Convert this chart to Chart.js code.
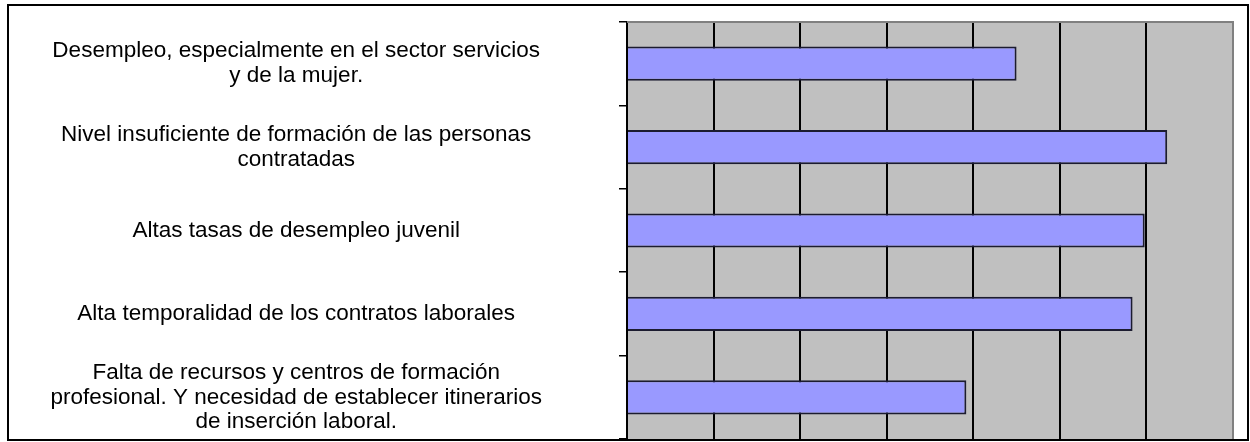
<!DOCTYPE html>
<html>
<head>
<meta charset="utf-8">
<script src="https://cdn.jsdelivr.net/npm/chart.js@4/dist/chart.umd.min.js"></script>
<style>
  html, body { margin: 0; padding: 0; background: #fff; }
  #wrap { width: 1250px; height: 442px; position: relative; }
</style>
</head>
<body>
<div id="wrap"><canvas id="c" width="1250" height="442"></canvas></div>
<script>
const categories = [
  ["Desempleo, especialmente en el sector servicios", "y de la mujer."],
  ["Nivel insuficiente de formación de las personas", "contratadas"],
  "Altas tasas de desempleo juvenil",
  "Alta temporalidad de los contratos laborales",
  ["Falta de recursos y centros de formación", "profesional. Y necesidad de establecer itinerarios", "de inserción laboral."]
];
const values = [4.50, 6.24, 5.98, 5.84, 3.92];
const axisMin = 0;
const axisMax = 7;
const axisStep = 1;

const frame = {
  id: 'frame',
  beforeDraw(chart) {
    const { ctx, chartArea: a } = chart;
    ctx.save();
    ctx.fillStyle = '#C0C0C0';
    ctx.fillRect(a.left, a.top, a.right - a.left, a.bottom - a.top);
    ctx.restore();
  },
  afterDraw(chart) {
    const { ctx, chartArea: a } = chart;
    ctx.save();
    ctx.strokeStyle = '#808080';
    ctx.lineWidth = 2;
    ctx.beginPath();
    ctx.moveTo(a.left, a.top);
    ctx.lineTo(a.right, a.top);
    ctx.lineTo(a.right, a.bottom);
    ctx.stroke();
    ctx.strokeStyle = '#000';
    ctx.lineWidth = 2;
    ctx.strokeRect(8, 5, 1240, 435);
    ctx.restore();
  }
};

new Chart(document.getElementById('c'), {
  type: 'bar',
  data: {
    labels: categories,
    datasets: [{
      data: values,
      backgroundColor: '#9999FF',
      borderColor: '#1c1c30',
      borderWidth: 2,
      barPercentage: 0.41,
      categoryPercentage: 1
    }]
  },
  options: {
    indexAxis: 'y',
    responsive: false,
    animation: false,
    devicePixelRatio: 1,
    layout: { padding: { left: 0, top: 22, right: 17, bottom: 3 } },
    plugins: { legend: { display: false }, tooltip: { enabled: false } },
    scales: {
      x: {
        min: axisMin, max: axisMax,
        ticks: { stepSize: axisStep, display: false },
        grid: {
          color: (c) => (c.tick && c.tick.value === axisMax) ? '#808080' : '#000000',
          lineWidth: 2,
          drawTicks: false
        },
        border: { display: false },
        afterFit(scale) { scale.height = 0; scale.paddingLeft = 0; scale.paddingRight = 0; }
      },
      y: {
        offset: true,
        grid: { display: true, drawOnChartArea: false, drawTicks: true, tickLength: 8, color: '#000', lineWidth: 1.5, offset: true },
        border: { display: true, color: '#000', width: 2 },
        ticks: {
          color: '#000',
          crossAlign: 'center',
          padding: 77,
          font: { family: '"Liberation Sans", Arial, sans-serif', size: 22.5, lineHeight: 1.11 }
        },
        afterFit(scale) { scale.width = 627; scale.paddingTop = 0; scale.paddingBottom = 0; }
      }
    }
  },
  plugins: [frame]
});
</script>
</body>
</html>
